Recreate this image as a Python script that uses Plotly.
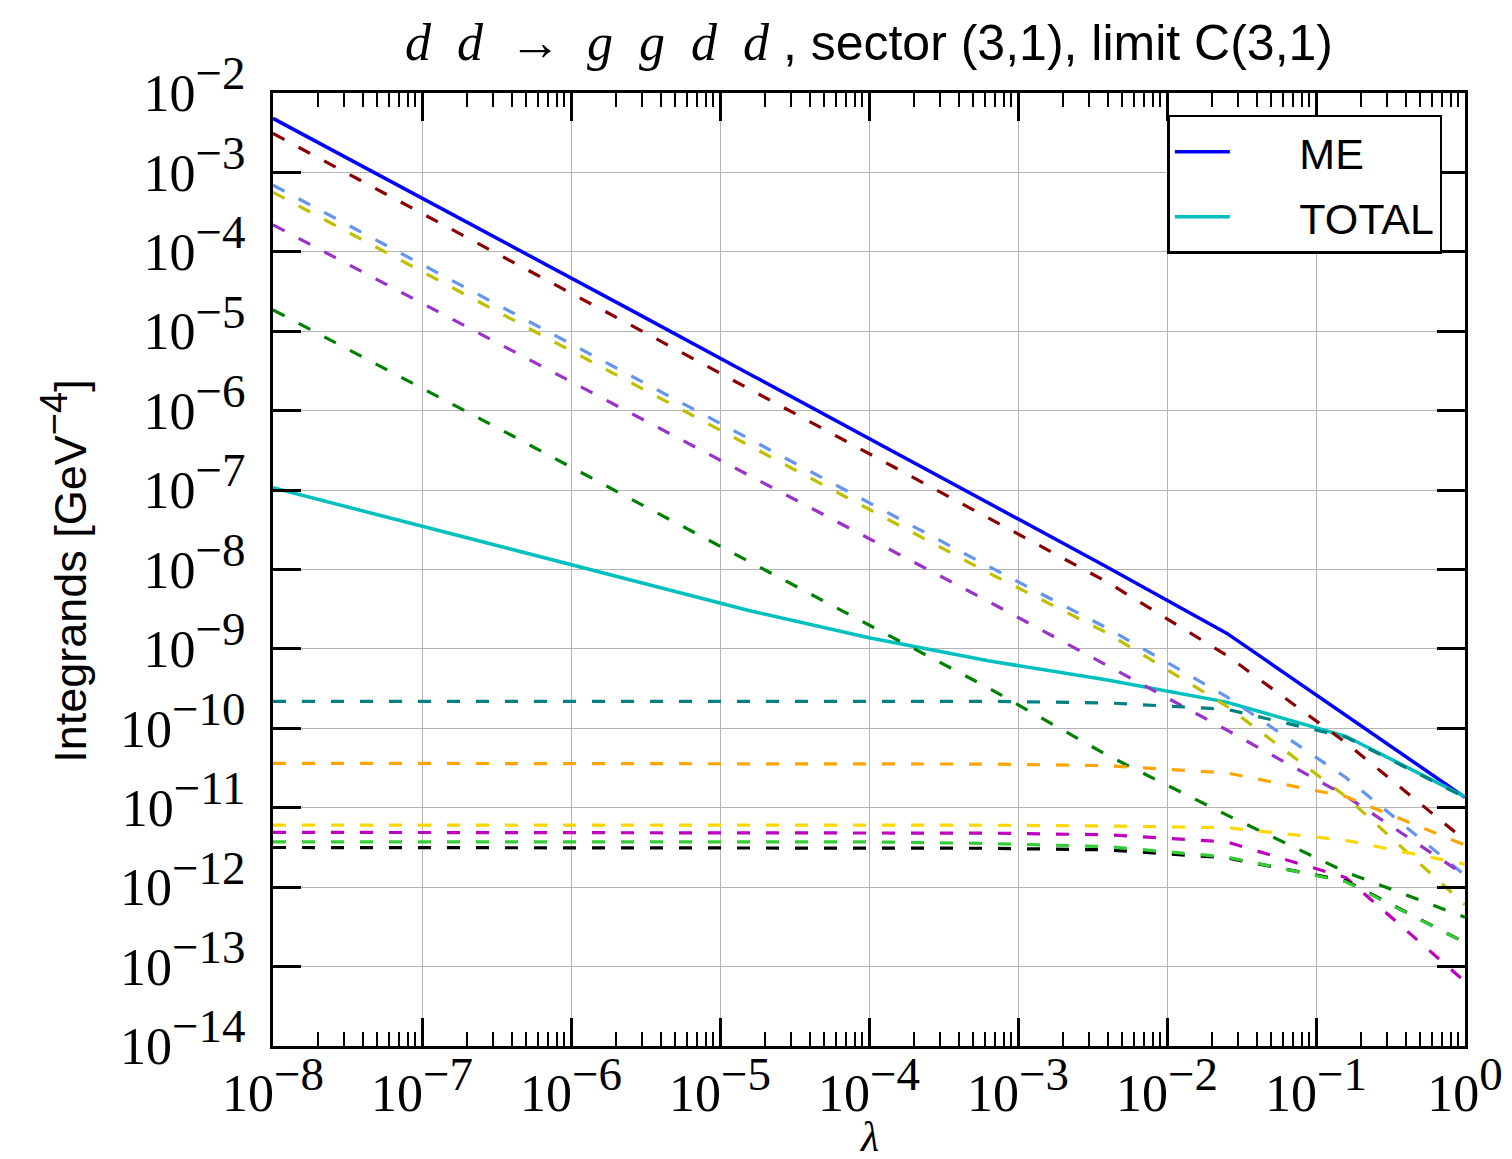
import plotly.graph_objects as go

# lambda sampling points (log-spaced, 0.8 decades apart)
lam = [1e-8, 6.31e-8, 3.98e-7, 2.51e-6, 1.585e-5, 1e-4, 6.31e-4, 3.98e-3, 2.51e-2, 1.585e-1, 1.0]

# full matrix element and total (ME minus counterterms)
me    = [4.79e-3, 7.59e-4, 1.17e-4, 1.86e-5, 2.88e-6, 4.47e-7, 6.92e-8, 1.07e-8, 1.58e-9, 1.48e-10, 1.35e-11]
total = [1.07e-7, 4.37e-8, 1.78e-8, 7.24e-9, 3.02e-9, 1.38e-9, 7.08e-10, 4.07e-10, 2.14e-10, 7.94e-11, 1.38e-11]

# individual counterterms
ct_darkred    = [3.09e-3, 4.90e-4, 7.59e-5, 1.20e-5, 1.86e-6, 2.88e-7, 4.47e-8, 6.92e-9, 8.32e-10, 6.61e-11, 3.89e-12]
ct_cornflower = [6.92e-4, 1.10e-4, 1.74e-5, 2.75e-6, 4.37e-7, 6.92e-8, 1.10e-8, 1.82e-9, 2.51e-10, 2.40e-11, 1.41e-12]
ct_olive      = [5.62e-4, 8.91e-5, 1.41e-5, 2.24e-6, 3.55e-7, 5.62e-8, 9.12e-9, 1.58e-9, 1.91e-10, 1.38e-11, 6.03e-13]
ct_orchid     = [2.19e-4, 3.55e-5, 5.75e-6, 9.33e-7, 1.51e-7, 2.45e-8, 3.98e-9, 6.17e-10, 9.55e-11, 1.41e-11, 1.41e-12]
ct_green      = [1.86e-5, 3.02e-6, 4.90e-7, 7.76e-8, 1.26e-8, 2.00e-9, 3.24e-10, 4.57e-11, 8.13e-12, 1.55e-12, 4.17e-13]
ct_teal       = [2.19e-10, 2.19e-10, 2.19e-10, 2.19e-10, 2.19e-10, 2.19e-10, 2.19e-10, 2.09e-10, 1.74e-10, 7.76e-11, 1.35e-11]
ct_orange     = [3.63e-11, 3.63e-11, 3.63e-11, 3.63e-11, 3.63e-11, 3.63e-11, 3.55e-11, 3.39e-11, 2.75e-11, 1.38e-11, 3.39e-12]
ct_gold       = [6.03e-12, 6.03e-12, 6.03e-12, 6.03e-12, 6.03e-12, 6.03e-12, 6.03e-12, 5.89e-12, 5.62e-12, 3.89e-12, 1.95e-12]
ct_magenta    = [4.90e-12, 4.90e-12, 4.90e-12, 4.90e-12, 4.90e-12, 4.90e-12, 4.79e-12, 4.57e-12, 3.72e-12, 1.32e-12, 6.46e-14]
ct_black      = [3.16e-12, 3.16e-12, 3.16e-12, 3.16e-12, 3.16e-12, 3.16e-12, 3.09e-12, 2.95e-12, 2.34e-12, 1.20e-12, 2.00e-13]
ct_lime       = [3.72e-12, 3.72e-12, 3.72e-12, 3.72e-12, 3.72e-12, 3.72e-12, 3.55e-12, 3.24e-12, 2.40e-12, 1.17e-12, 2.00e-13]

x_exponents = [-8, -7, -6, -5, -4, -3, -2, -1, 0]
y_exponents = [-14, -13, -12, -11, -10, -9, -8, -7, -6, -5, -4, -3, -2]

SERIF = "Liberation Serif"
SANS = "Liberation Sans"
DASH = "13px,16px"


def power_label(e):
    exp = str(e).replace("-", "\u2212")
    return "10<sup><span style='font-size:47px'>%s</span></sup>" % exp


x_tick_vals = [10.0 ** e for e in x_exponents]
x_tick_text = [power_label(e) for e in x_exponents]
y_tick_vals = [10.0 ** e for e in y_exponents]
y_tick_text = [power_label(e) for e in y_exponents]

fig = go.Figure()

fig.add_trace(go.Scatter(x=lam, y=me, mode="lines", name="\u2003\u2002ME",
                         legendgroup="me",
                         line=dict(color="#0000ff", width=3.5)))
fig.add_trace(go.Scatter(x=lam, y=total, mode="lines", name="\u2003\u2002TOTAL",
                         legendgroup="total",
                         line=dict(color="#00bfbf", width=3.5)))

counterterms = [
    (ct_darkred, "#8b0000"),
    (ct_cornflower, "#6495ed"),
    (ct_olive, "#bfbf00"),
    (ct_orchid, "#9932cc"),
    (ct_green, "#008000"),
    (ct_teal, "#008080"),
    (ct_orange, "#ffa500"),
    (ct_gold, "#ffd700"),
    (ct_magenta, "#bf00bf"),
    (ct_black, "#000000"),
    (ct_lime, "#32cd32"),
]
for vals, col in counterterms:
    fig.add_trace(go.Scatter(x=lam, y=vals, mode="lines", showlegend=False,
                             line=dict(color=col, width=3.2, dash=DASH)))

axis_common = dict(
    type="log",
    automargin=False,
    showline=True, linewidth=3, linecolor="black", mirror="allticks",
    ticks="inside", ticklen=28, tickwidth=2.5, tickcolor="black",
    showgrid=True, gridcolor="#b4b4b4", gridwidth=1,
    zeroline=False,
    tickmode="array",
    tickfont=dict(family=SERIF, size=52, color="black"),
)

fig.update_xaxes(
    **axis_common,
    range=[-8, 0],
    tickvals=x_tick_vals, ticktext=x_tick_text,
    ticklabelstandoff=0,
    minor=dict(ticks="inside", ticklen=14, tickwidth=2, tickcolor="black",
               dtick="D1", showgrid=False),
)
fig.update_yaxes(
    **axis_common,
    range=[-14, -2],
    tickvals=y_tick_vals, ticktext=y_tick_text,
    ticklabelstandoff=14,
)

# axis titles placed as paper-anchored annotations
fig.add_annotation(text="<i>\u03bb</i>", xref="paper", yref="paper",
                   x=0.5, y=-0.0955, xanchor="center", yanchor="middle",
                   showarrow=False, borderpad=0,
                   font=dict(family=SERIF, size=42, color="black"))
fig.add_annotation(text="Integrands [GeV<sup><span style='font-size:38px'>\u22124</span></sup>]",
                   xref="paper", yref="paper", x=-0.175, y=0.499,
                   xanchor="center", yanchor="middle", textangle=-90,
                   showarrow=False, font=dict(family=SANS, size=45, color="black"))

title_text = ('<span style="font-family:Liberation Serif;font-size:52px"><i>d\u2002d</i>\u2002\u2192\u2002'
              '<i>g\u2002g\u2002d\u2002d</i></span> , sector (3,1), limit C(3,1)')

fig.update_layout(
    width=1512, height=1159,
    margin=dict(l=273, r=47, t=93, b=113),
    plot_bgcolor="white", paper_bgcolor="white",
    title=dict(text=title_text, x=0.5, xref="paper", xanchor="center",
               y=1 - 42 / 1159, yref="container", yanchor="middle",
               font=dict(family=SANS, size=50, color="black")),
    legend=dict(x=0.981, y=0.977, xanchor="right", yanchor="top",
                bgcolor="white", bordercolor="black", borderwidth=2.5,
                font=dict(family=SANS, size=43, color="black"),
                itemwidth=55, tracegroupgap=6),
    showlegend=True,
)

fig.write_html("out.html")
